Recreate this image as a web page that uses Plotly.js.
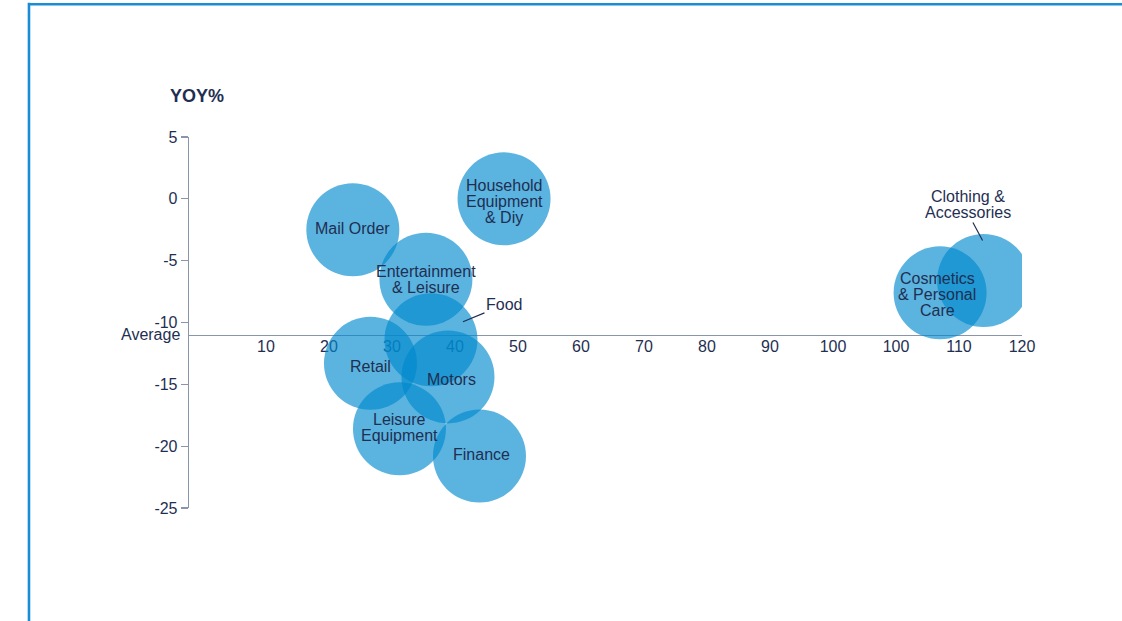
<!DOCTYPE html>
<html>
<head>
<meta charset="utf-8">
<script src="https://cdn.plot.ly/plotly-3.0.1.min.js"></script>
<style>
  html, body { margin: 0; padding: 0; background: #ffffff; }
  #chart { width: 1122px; height: 621px; }
</style>
</head>
<body>
<div id="chart"></div>
<script>
// ---- Data ----
const categories = [
  "Mail Order", "Household Equipment & Diy", "Entertainment & Leisure", "Food",
  "Retail", "Motors", "Leisure Equipment", "Finance",
  "Cosmetics & Personal Care", "Clothing & Accessories"
];
const xValues   = [23.8, 47.8, 35.4, 36.2, 26.6, 38.9, 31.2, 43.9, 117.0, 123.9];
const yoyValues = [-2.5, 0.0, -6.5, -11.4, -13.3, -14.4, -18.6, -20.8, -7.6, -6.6];
const labelLines = [
  ["Mail Order"], ["Household", "Equipment", "& Diy"], ["Entertainment", "& Leisure"], ["Food"],
  ["Retail"], ["Motors"], ["Leisure", "Equipment"], ["Finance"],
  ["Cosmetics", "& Personal", "Care"], ["Clothing &", "Accessories"]
];
const averageYoY = -11;
const xTickValues = [10, 20, 30, 40, 50, 60, 70, 80, 90, 100, 110, 120, 130];
const xTickLabels = ["10", "20", "30", "40", "50", "60", "70", "80", "90", "100", "100", "110", "120"];
const yTickValues = [5, 0, -5, -10, -15, -20, -25];

// ---- Styling ----
const TEXT = "#1f2f52";
const AXIS = "#8b95aa";
const FONT = "Liberation Sans, Arial, Helvetica, sans-serif";
const LINE_H = 16;

// small pixel nudges of in-bubble labels (dx right, dy down)
const labelNudge = {
  "Mail Order": [0, -1], "Household Equipment & Diy": [0, 3], "Entertainment & Leisure": [0, 0],
  "Retail": [0, 3], "Motors": [4, 3], "Leisure Equipment": [0, -1], "Finance": [2, -2],
  "Cosmetics & Personal Care": [-3, 2]
};

// callouts (labels drawn outside their bubble with a leader line), pixel offsets
const callouts = {
  "Food": { xshift: 32, yshift: 18, ax: 41, ay: -17, standoff: 0 },
  "Clothing & Accessories": { xshift: -1, yshift: 40, ax: -15, ay: -28, standoff: 0 }
};

const annotations = [];
categories.forEach((cat, i) => {
  const lines = labelLines[i];
  const c = callouts[cat];
  if (c) {
    const n = lines.length;
    annotations.push({
      x: xValues[i], y: yoyValues[i], xref: "x", yref: "y",
      text: lines[n - 1], showarrow: true, arrowhead: 0, arrowwidth: 1.2,
      arrowcolor: TEXT, ax: c.ax, ay: c.ay, xshift: c.xshift, yshift: c.yshift,
      standoff: c.standoff, font: { family: FONT, size: 16, color: TEXT }
    });
    for (let k = 0; k < n - 1; k++) {
      annotations.push({
        x: xValues[i], y: yoyValues[i], xref: "x", yref: "y",
        text: lines[k], showarrow: false,
        xshift: c.xshift + c.ax, yshift: c.yshift - c.ay + (n - 1 - k) * LINE_H,
        xanchor: "center", yanchor: "middle",
        font: { family: FONT, size: 16, color: TEXT }
      });
    }
  } else {
    const n = lines.length;
    const nd = labelNudge[cat] || [0, 0];
    lines.forEach((ln, k) => {
      annotations.push({
        x: xValues[i], y: yoyValues[i], xref: "x", yref: "y",
        text: ln, showarrow: false,
        xshift: nd[0],
        yshift: ((n - 1) / 2 - k) * LINE_H - nd[1],
        xanchor: "center", yanchor: "middle",
        font: { family: FONT, size: 16, color: TEXT }
      });
    });
  }
});

// axis title and "Average" label
annotations.push({
  x: 0.0092, y: 1.1114, xref: "paper", yref: "paper", text: "YOY%",
  showarrow: false, xanchor: "center", yanchor: "middle",
  font: { family: FONT, size: 18, color: TEXT, weight: "bold" }
});
annotations.push({
  x: -0.008, y: averageYoY, xref: "paper", yref: "y", text: "Average",
  showarrow: false, xanchor: "right", yanchor: "middle",
  font: { family: FONT, size: 16, color: TEXT }
});

const trace = {
  type: "scatter",
  mode: "markers",
  x: xValues,
  y: yoyValues,
  text: categories,
  hoverinfo: "text",
  marker: { size: 93, color: "rgb(0,137,205)", opacity: 0.643, line: { width: 0 } }
};

const yRange = [-25, 5];
const averagePos = (averageYoY - yRange[0]) / (yRange[1] - yRange[0]);

const layout = {
  width: 1122, height: 621,
  margin: { l: 189, r: 100, t: 137, b: 113 },
  paper_bgcolor: "#ffffff", plot_bgcolor: "rgba(0,0,0,0)",
  showlegend: false,
  font: { family: FONT, size: 16, color: TEXT },
  xaxis: {
    range: [-2.2, 130], anchor: "free", position: averagePos,
    showgrid: false, zeroline: false,
    showline: true, linecolor: AXIS, linewidth: 1.3,
    ticks: "", tickvals: xTickValues, ticktext: xTickLabels,
    ticklabelstandoff: -3,
    tickfont: { family: FONT, size: 16, color: TEXT },
    layer: "below traces"
  },
  yaxis: {
    range: yRange, showgrid: false, zeroline: false,
    showline: true, linecolor: AXIS, linewidth: 1.3,
    ticks: "outside", ticklen: 7, tickwidth: 1.2, tickcolor: AXIS,
    tickvals: yTickValues, ticktext: yTickValues.map(v => String(v)),
    tickfont: { family: FONT, size: 16, color: TEXT },
    layer: "below traces"
  },
  annotations: annotations,
  shapes: [
    { type: "line", xref: "paper", yref: "paper", x0: -0.1933, x1: 1.13, y0: 1.3577, y1: 1.3577,
      line: { color: "#1a8cd6", width: 2.6 } },
    { type: "line", xref: "paper", yref: "paper", x0: -0.1921, x1: -0.1921, y0: 1.3617, y1: -0.33,
      line: { color: "#1a8cd6", width: 2.6 } }
  ]
};

Plotly.newPlot("chart", [trace], layout, { displayModeBar: false, staticPlot: true });
</script>
</body>
</html>
